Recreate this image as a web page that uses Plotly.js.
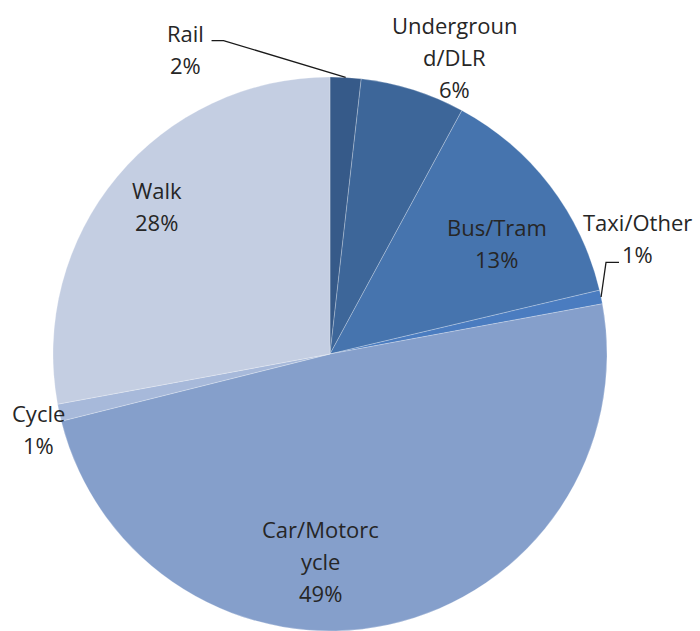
<!DOCTYPE html>
<html>
<head>
<meta charset="utf-8">
<script src="https://cdn.plot.ly/plotly-3.0.1.min.js"></script>
<style>html,body{margin:0;padding:0;background:#fff;}#chart{width:700px;height:631px;}</style>
</head>
<body>
<div id="chart"></div>
<script>
// ---- data ----
const labels = ['Rail', 'Underground/DLR', 'Bus/Tram', 'Taxi/Other', 'Car/Motorcycle', 'Cycle', 'Walk'];
const labelText = ['Rail', 'Undergroun<br>d/DLR', 'Bus/Tram', 'Taxi/Other', 'Car/Motorc<br>ycle', 'Cycle', 'Walk'];
const values = [1.8, 6.1, 13.4, 0.8, 49.0, 1.0, 27.9];
const colors = ['#365A89', '#3D6699', '#4674AE', '#4A7CC0', '#859FCB', '#A7B9DA', '#C4CEE2'];

// ---- label placement (style) ----
const labelDAng = [-28.6, 5.3, 3.8, -8.8, 15, -2.2, 0.7];
const labelR = [1.22, 1.163, 0.724, 1.185, 0.748, 1.088, 0.822];
const leaders = {0: {dAng: -22, r: 1.195, dx: -12}, 3: {dAng: -6.5, r: 1.05, dx: 13}};
const lineGap = 32;

const W = 700, H = 631;
const margin = {l: 53, r: 93, t: 77, b: 0, pad: 0};
const pw = W - margin.l - margin.r, ph = H - margin.t - margin.b;
const cx = margin.l + pw / 2, cy = margin.t + ph / 2, R = Math.min(pw, ph) / 2;
const total = values.reduce((a, b) => a + b, 0);

function polar(angDeg, rf) {
  const a = angDeg * Math.PI / 180;
  return [cx + rf * R * Math.sin(a), cy - rf * R * Math.cos(a)];
}
function toPaper(p) { return [(p[0] - margin.l) / pw, 1 - (p[1] - margin.t) / ph]; }

const annotations = [];
const shapes = [];
let cum = 0;
values.forEach((v, i) => {
  const mid = (cum + v / 2) / total * 360;
  cum += v;
  const c = polar(mid + labelDAng[i], labelR[i]);
  const lines = (labelText[i] + '<br>' + Math.round(v / total * 100) + '%').split('<br>');
  lines.forEach((ln, k) => {
    const pos = toPaper([c[0], c[1] + (k - (lines.length - 1) / 2) * lineGap]);
    annotations.push({
      xref: 'paper', yref: 'paper', x: pos[0], y: pos[1],
      xanchor: 'center', yanchor: 'middle', showarrow: false, align: 'center',
      text: ln,
      font: {family: 'Open Sans, sans-serif', size: 22, color: '#262626'}
    });
  });
  if (leaders[i]) {
    const L = leaders[i];
    const p0 = polar(mid, 1.0);
    const p1 = polar(mid + L.dAng, L.r);
    const p2 = [p1[0] + L.dx, p1[1]];
    const q0 = toPaper(p0), q1 = toPaper(p1), q2 = toPaper(p2);
    shapes.push({
      type: 'path', xref: 'paper', yref: 'paper',
      path: `M ${q0[0]} ${q0[1]} L ${q1[0]} ${q1[1]} L ${q2[0]} ${q2[1]}`,
      line: {color: '#1a1a1a', width: 1.3}
    });
  }
});

const trace = {
  type: 'pie', labels: labels, values: values, sort: false,
  direction: 'clockwise', rotation: 0,
  marker: {colors: colors, line: {color: 'rgba(255,255,255,0.25)', width: 1}},
  textinfo: 'none', hoverinfo: 'none', showlegend: false,
  domain: {x: [0, 1], y: [0, 1]}
};

Plotly.newPlot('chart', [trace], {
  width: W, height: H, margin: margin,
  paper_bgcolor: '#ffffff', plot_bgcolor: '#ffffff',
  showlegend: false, annotations: annotations, shapes: shapes
}, {displayModeBar: false, staticPlot: true});
</script>
</body>
</html>
